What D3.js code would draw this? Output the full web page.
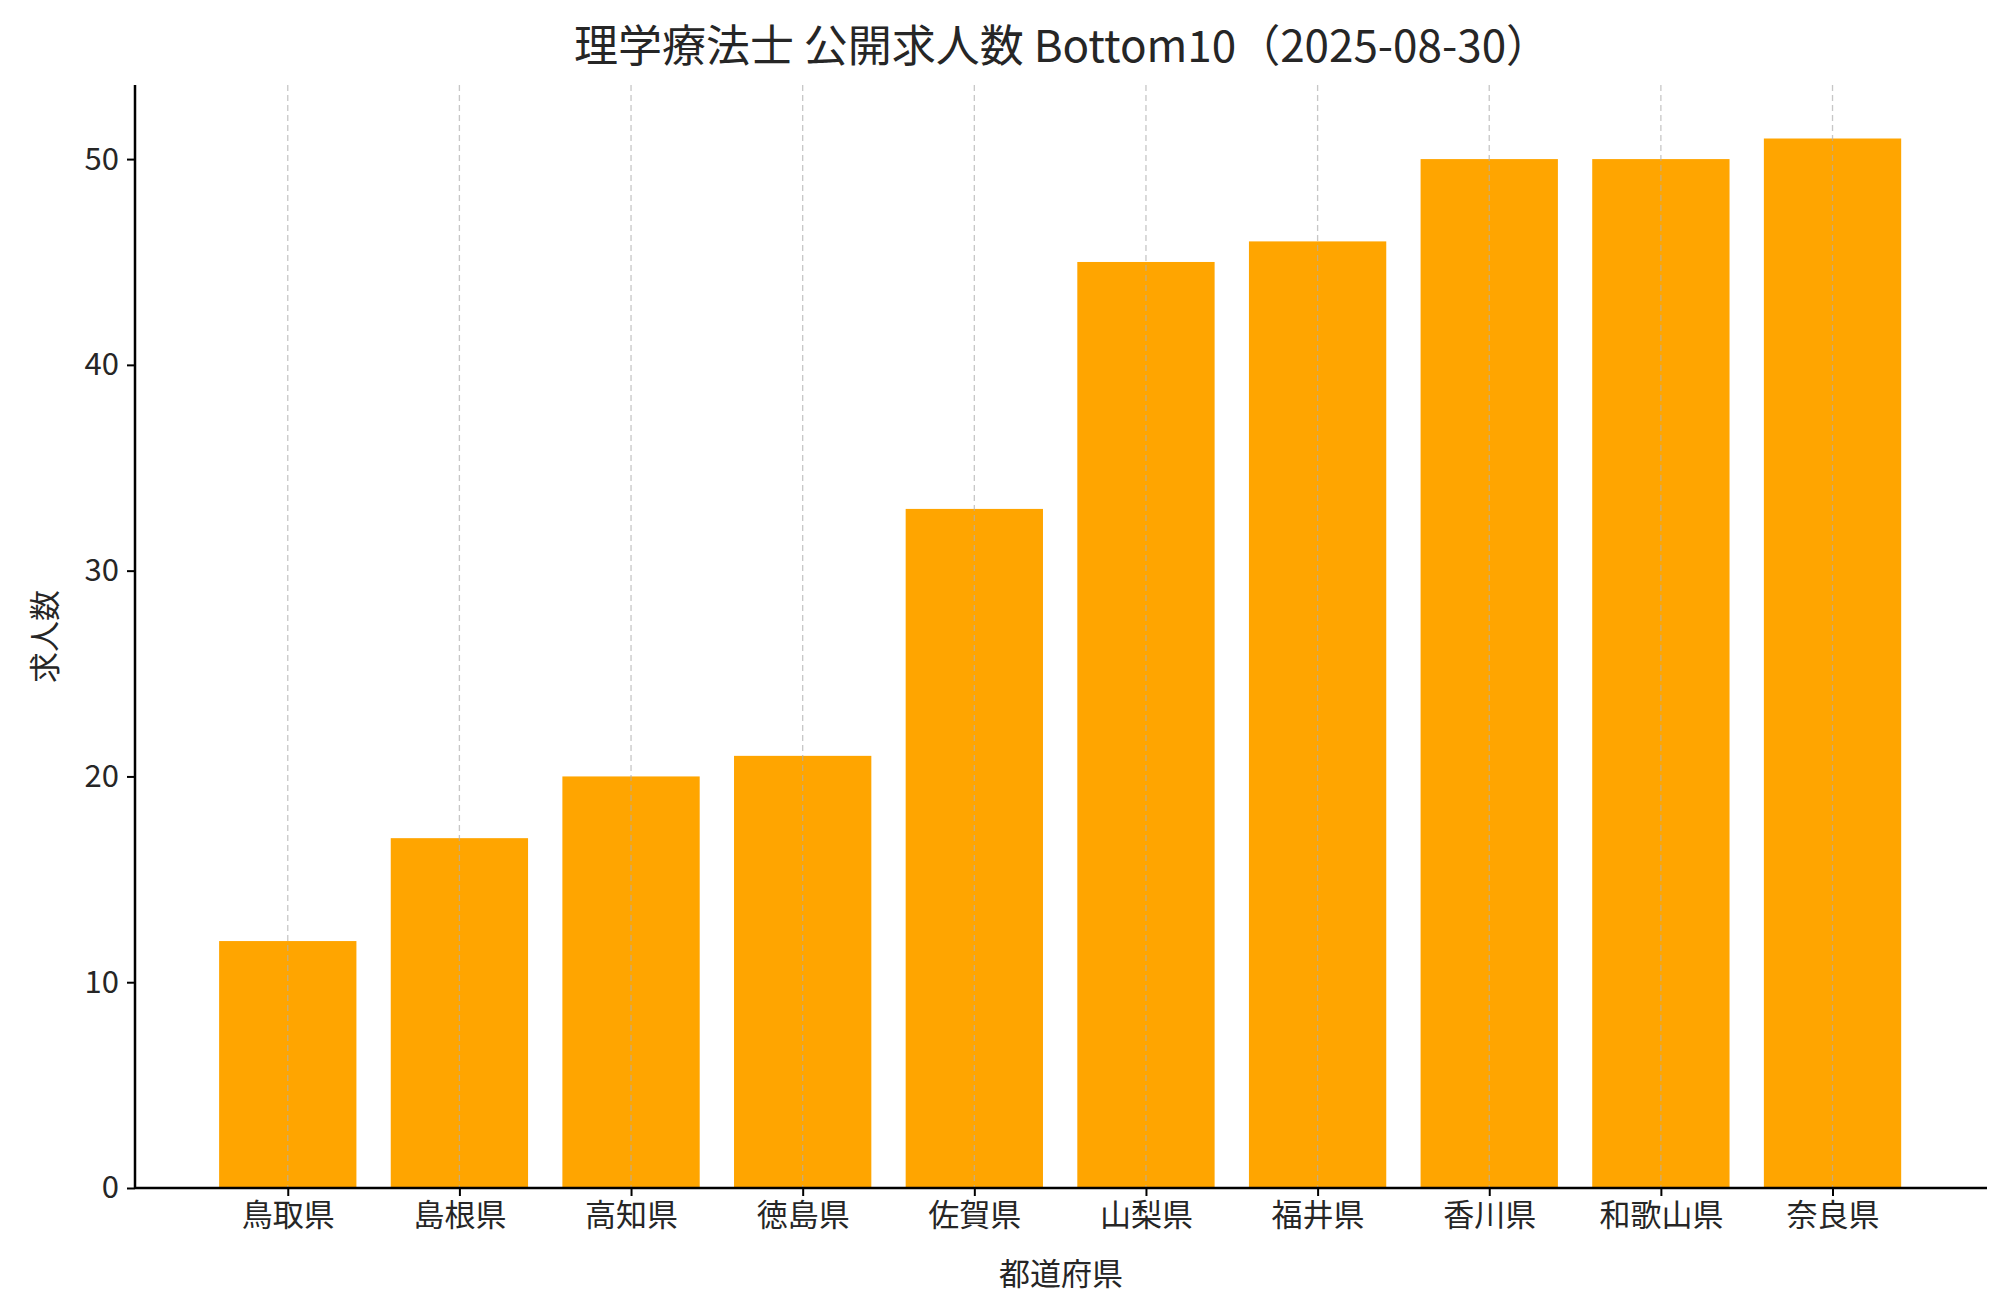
<!DOCTYPE html>
<html><head><meta charset="utf-8">
<script src="https://cdn.jsdelivr.net/npm/d3@7"></script>
<style>body{margin:0;background:#fff}text{font-family:"Noto Sans CJK JP","Noto Sans",sans-serif;fill:#262626}</style>
</head><body>
<script>
var prefectures = ["鳥取県","島根県","高知県","徳島県","佐賀県","山梨県","福井県","香川県","和歌山県","奈良県"];
var jobCounts = [12,17,20,21,33,45,46,50,50,51];
var yTicks = [0,10,20,30,40,50];

const W = 2000, H = 1314;
const L = 135, R = 1987, T = 85, B = 1188;

var svg = d3.select("body").append("svg").attr("width", W).attr("height", H);

var x = d3.scaleLinear().domain([-0.89, 9.9]).range([L, R]);
var y = d3.scaleLinear().domain([0, 53.6]).range([B, T]);
var bw = x(0.4) - x(-0.4);

svg.selectAll("rect").data(jobCounts).enter().append("rect")
  .attr("x", function(d,i){ return x(i) - bw/2 })
  .attr("y", function(d){ return y(d) })
  .attr("width", bw)
  .attr("height", function(d){ return B - y(d) })
  .attr("fill", "#ffa500");

// vertical dashed grid on top of bars
svg.selectAll("line.grid").data(prefectures).enter().append("line")
  .attr("class","grid")
  .attr("x1", function(d,i){ return x(i) }).attr("x2", function(d,i){ return x(i) })
  .attr("y1", T).attr("y2", B)
  .attr("stroke", "#b0b0b0").attr("stroke-width", 1.3).attr("stroke-dasharray", "6,4")
  .attr("opacity", 0.7);

var xAxis = svg.append("g").attr("transform", "translate(0,"+B+")")
  .call(d3.axisBottom(x).tickValues(d3.range(prefectures.length)).tickFormat(function(i){ return prefectures[i] }).tickSize(8).tickPadding(8));
xAxis.select(".domain").attr("d", "M"+L+",0H"+R).attr("stroke-width", 2.5);
xAxis.selectAll("text").style("font-size", "31px").attr("fill", "#262626");
xAxis.selectAll(".tick line").attr("stroke-width", 2);

var yAxis = svg.append("g").attr("transform", "translate("+L+",0)")
  .call(d3.axisLeft(y).tickValues(yTicks).tickSize(8).tickPadding(8));
yAxis.select(".domain").attr("d", "M0,"+B+"V"+T).attr("stroke-width", 2.5);
yAxis.selectAll("text").style("font-size", "31px").attr("fill", "#262626");
yAxis.selectAll(".tick line").attr("stroke-width", 2);

svg.append("text").attr("x", (L+R)/2 + 1).attr("y", 62).attr("text-anchor","middle")
  .style("font-size","44px").text("理学療法士 公開求人数 Bottom10（2025-08-30）");
svg.append("text").attr("x", (L+R)/2).attr("y", 1285).attr("text-anchor","middle")
  .style("font-size","31px").text("都道府県");
svg.append("text").attr("transform","translate(56,"+((T+B)/2)+") rotate(-90)").attr("text-anchor","middle")
  .style("font-size","31px").text("求人数");
</script>
</body></html>
